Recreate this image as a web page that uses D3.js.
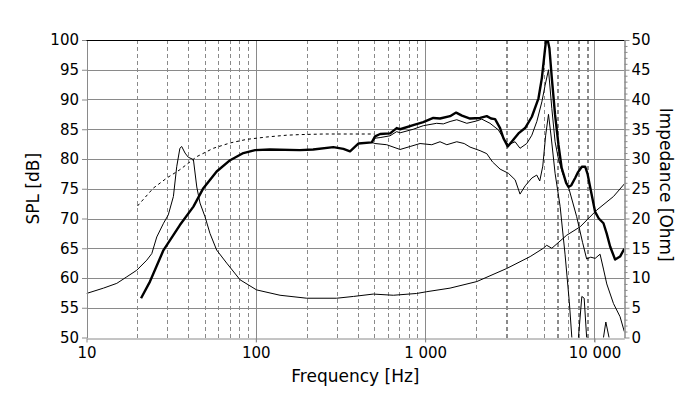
<!DOCTYPE html>
<html>
<head>
<meta charset="utf-8">
<script src="https://cdn.jsdelivr.net/npm/d3@7"></script>
<style>
  html, body { margin: 0; padding: 0; background: #fff; }
  svg text { font-family: "DejaVu Sans", Verdana, sans-serif; fill: #000; }
</style>
</head>
<body>
<svg id="chart"></svg>
<script>
// ---- data ----
const freqTicks = [10, 100, 1000, 10000]
const splTicks = [50, 55, 60, 65, 70, 75, 80, 85, 90, 95, 100]
const ohmTicks = [0, 5, 10, 15, 20, 25, 30, 35, 40, 45, 50]

// on-axis SPL (thick)
const axisFreq = [21, 23.7, 28.5, 35.6, 42.8, 49, 58.7, 70.5, 84.4, 99, 121, 182, 218, 287, 329, 360, 403, 484, 506, 542, 621, 679, 711, 850, 975, 1117, 1224, 1403, 1524, 1650, 1842, 2110, 2311, 2450, 2588, 2770, 2898, 3074, 3245, 3400, 3556, 3894, 4266, 4670, 4889, 5110, 5220, 5418, 5598, 5852, 6127, 6400, 6800, 7020, 7300, 7690, 8000, 8420, 8810, 9100, 9425, 10090, 10600, 11300, 11800, 12370, 13240, 14160, 15000]
const axisDb = [56.6, 59.4, 64.7, 68.9, 72.0, 75.1, 77.9, 79.8, 81.0, 81.5, 81.6, 81.5, 81.6, 82.0, 81.7, 81.3, 82.6, 82.8, 83.8, 84.2, 84.3, 85.2, 85.0, 85.7, 86.2, 86.9, 86.8, 87.2, 87.8, 87.3, 86.8, 86.9, 87.2, 86.8, 86.7, 85.2, 83.5, 82.1, 82.9, 83.6, 84.3, 85.2, 87.1, 90.2, 93.6, 98.6, 100.8, 98.6, 93.6, 87.4, 82.4, 78.5, 76.0, 75.3, 75.6, 76.8, 77.8, 78.7, 78.7, 77.5, 75.3, 71.1, 70.0, 69.2, 67.5, 65.3, 63.1, 63.6, 64.9]

// off-axis 30 (thin, upper)
const off30Freq = [484, 506, 542, 620, 679, 711, 850, 975, 1170, 1280, 1403, 1537, 1762, 2018, 2160, 2415, 2705, 2898, 3100, 3396, 3633, 3981, 4266, 4565, 4889, 5110, 5350, 5598, 5852, 6127, 6500, 7020, 7850, 8500, 8990, 9500, 10090, 10790, 11300, 11820, 12950, 14160, 15000]
const off30Db = [82.8, 83.5, 83.6, 83.9, 84.6, 84.4, 85.0, 85.6, 86.0, 85.9, 86.3, 86.6, 86.0, 86.4, 86.7, 86.0, 84.9, 83.5, 82.4, 82.9, 81.8, 82.6, 84.0, 86.3, 89.6, 92.4, 95.0, 88.5, 82.9, 80.0, 77.5, 75.3, 70.3, 66.0, 63.2, 63.5, 63.3, 64.0, 61.5, 59.0, 55.7, 53.5, 51.0]

// off-axis 60 (thin, lower)
const off60Freq = [484, 506, 593, 711, 815, 933, 1094, 1224, 1343, 1537, 1700, 1842, 2110, 2311, 2500, 2770, 3100, 3400, 3633, 3900, 4266, 4560, 4750, 4950, 5150, 5350, 5550, 5852, 6270, 6700, 7100, 7350, 7600, 7900, 8040, 8420, 8690, 8990, 9150, 11100, 11300, 11670, 12190, 12400, 15000]
const off60Db = [82.8, 82.6, 82.4, 81.6, 82.1, 82.6, 82.4, 82.9, 82.4, 82.9, 82.6, 82.0, 81.4, 80.9, 79.5, 78.3, 77.6, 76.5, 74.1, 75.5, 76.8, 77.3, 76.3, 78.8, 84.0, 87.5, 83.7, 77.6, 72.0, 64.0, 56.0, 50.0, 44.0, 42.0, 50.0, 56.9, 56.6, 50.0, 42.0, 47.0, 50.0, 52.6, 50.0, 47.0, 45.0]

// low frequency model (dashed)
const modelFreq = [20, 24.8, 29.8, 35.6, 44.8, 56.1, 70.5, 88.4, 116, 152, 182, 250, 350, 500]
const modelDb = [72.1, 75.1, 76.8, 78.2, 80.4, 81.8, 82.7, 83.3, 83.7, 84.0, 84.1, 84.2, 84.2, 84.2]

// impedance (thin, right axis)
const impFreq = [10, 12.6, 15.1, 17.3, 19.8, 22.7, 24.3, 26.0, 28.5, 30.4, 32.6, 34.1, 35.6, 36.5, 38.2, 39.9, 42.8, 44.8, 46.8, 50.1, 53.6, 58.7, 67.3, 80.7, 101, 139, 200, 300, 377, 494, 649, 891, 1023, 1403, 2018, 3033, 4169, 4990, 5221, 5598, 6860, 8225, 10300, 12950, 15000]
const impOhm = [7.4, 8.3, 9.1, 10.2, 11.3, 13.0, 14.1, 16.9, 19.2, 20.6, 23.7, 28.7, 31.8, 32.1, 31.0, 30.3, 29.9, 25.3, 22.6, 20.3, 17.5, 14.7, 12.5, 9.7, 8.0, 7.1, 6.6, 6.6, 6.9, 7.3, 7.1, 7.4, 7.7, 8.3, 9.4, 11.6, 13.6, 15.0, 15.5, 15.0, 17.2, 18.6, 21.4, 23.7, 25.8]

// ---- layout ----
const width = 700
const height = 399
const pLeft = 86.5
const pRight = 624.3
const pTop = 40
const pBottom = 337.5
const gridColor = '#8a8a8a'

const svg = d3.select('#chart').attr('width', width).attr('height', height)

const x = d3.scaleLog().domain([10, 15000]).range([pLeft, pRight])
const yL = d3.scaleLinear().domain([50, 100]).range([pBottom, pTop])
const yR = d3.scaleLinear().domain([0, 50]).range([pBottom, pTop])

const fmt = d3.formatLocale({ decimal: '.', thousands: '\u00a0', grouping: [3], currency: ['', ''] }).format(',')

// GRID
const grid = svg.append('g').attr('shape-rendering', 'crispEdges')
const minorF = []
for (const dec of [10, 100, 1000]) for (let m = 2; m <= 9; m++) minorF.push(dec * m)
const thickMinor = [3000, 6000, 8000, 9000]
grid.selectAll('.vminor').data(minorF).enter().append('line')
  .attr('x1', d => Math.round(x(d)) + 0.5).attr('x2', d => Math.round(x(d)) + 0.5)
  .attr('y1', pTop).attr('y2', pBottom)
  .attr('stroke', gridColor)
  .attr('stroke-width', d => thickMinor.includes(d) ? 2 : 1)
  .attr('stroke-dasharray', '4,3')
grid.selectAll('.vmajor').data([100, 1000, 10000]).enter().append('line')
  .attr('x1', d => Math.round(x(d)) + 0.5).attr('x2', d => Math.round(x(d)) + 0.5)
  .attr('y1', pTop).attr('y2', pBottom + 4)
  .attr('stroke', gridColor)
grid.selectAll('.hgrid').data(splTicks.slice(1, -1)).enter().append('line')
  .attr('x1', pLeft).attr('x2', pRight)
  .attr('y1', d => Math.round(yL(d)) + 0.5).attr('y2', d => Math.round(yL(d)) + 0.5)
  .attr('stroke', gridColor)

// CURVES
svg.append('clipPath').attr('id', 'clip').append('rect')
  .attr('x', pLeft).attr('y', pTop).attr('width', pRight - pLeft).attr('height', pBottom - pTop)
const plot = svg.append('g').attr('clip-path', 'url(#clip)')

const zip = (fs, vs) => fs.map((f, i) => ({ f, v: vs[i] }))
const lineL = d3.line().x(d => x(d.f)).y(d => yL(d.v))
const lineR = d3.line().x(d => x(d.f)).y(d => yR(d.v))

plot.append('path').attr('d', lineR(zip(impFreq, impOhm)))
  .attr('fill', 'none').attr('stroke', '#000').attr('stroke-width', 1)
plot.append('path').attr('d', lineL(zip(modelFreq, modelDb)))
  .attr('fill', 'none').attr('stroke', '#000').attr('stroke-width', 1).attr('stroke-dasharray', '3,3')
plot.append('path').attr('d', lineL(zip(off60Freq, off60Db)))
  .attr('fill', 'none').attr('stroke', '#000').attr('stroke-width', 1)
plot.append('path').attr('d', lineL(zip(off30Freq, off30Db)))
  .attr('fill', 'none').attr('stroke', '#000').attr('stroke-width', 1)
plot.append('path').attr('d', lineL(zip(axisFreq, axisDb)))
  .attr('fill', 'none').attr('stroke', '#000').attr('stroke-width', 2.4).attr('stroke-linejoin', 'round')

// AXES
const axisStyle = g => {
  g.selectAll('.domain').attr('stroke', gridColor)
  g.selectAll('.tick line').attr('stroke', gridColor)
  g.selectAll('text').attr('font-size', 15).attr('font-family', '"DejaVu Sans", Verdana, sans-serif')
}
svg.append('g').attr('transform', `translate(${pLeft + 0.5},0)`)
  .call(d3.axisLeft(yL).tickValues(splTicks).tickSize(5).tickPadding(3).tickSizeOuter(0))
  .call(axisStyle)
svg.append('g').attr('transform', `translate(0,${Math.round(pBottom) + 0.5})`)
  .call(d3.axisBottom(x).tickValues(freqTicks).tickFormat(fmt).tickSize(4).tickPadding(5).tickSizeOuter(0))
  .call(axisStyle)
const ohmMinor = d3.range(0, 51).filter(d => d % 5 !== 0)
svg.append('g').attr('transform', `translate(${Math.round(pRight) + 0.5},0)`)
  .call(d3.axisRight(yR).tickValues(ohmMinor).tickSize(3).tickFormat('').tickSizeOuter(0))
  .call(axisStyle)
svg.append('g').attr('transform', `translate(${Math.round(pRight) + 0.5},0)`)
  .call(d3.axisRight(yR).tickValues(ohmTicks).tickSize(5).tickPadding(2).tickSizeOuter(0))
  .call(axisStyle)

// top border
svg.append('line').attr('x1', pLeft).attr('x2', pRight)
  .attr('y1', pTop + 0.5).attr('y2', pTop + 0.5).attr('stroke', '#000')

// TITLES
svg.append('text').attr('x', (pLeft + pRight) / 2).attr('y', 382)
  .attr('text-anchor', 'middle').attr('font-size', 17).text('Frequency [Hz]')
svg.append('text').attr('transform', `translate(39,${(pTop + pBottom) / 2}) rotate(-90)`)
  .attr('text-anchor', 'middle').attr('font-size', 17).text('SPL [dB]')
svg.append('text').attr('transform', `translate(660,${(pTop + pBottom) / 2 - 4}) rotate(90)`)
  .attr('text-anchor', 'middle').attr('font-size', 17).text('Impedance [Ohm]')
</script>
</body>
</html>
